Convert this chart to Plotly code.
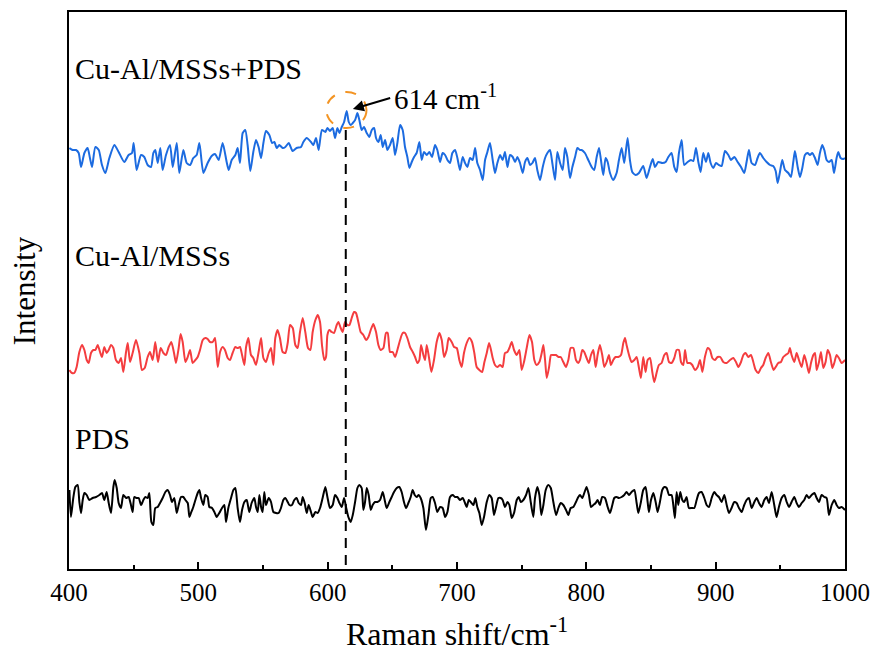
import plotly.graph_objects as go

# ---------------- data (Raman shift in cm^-1, intensity in a.u., stacked) ----------------
blue_x = [400.3,402.8,405.4,407.5,409.3,411.9,414.4,416.2,417.8,420.4,423,425.5,428.1,431.2,435.1,438.4,442.8,446.1,448.7,450,
          452.3,455.7,458.2,460.8,463.4,465.2,466.7,468.6,470.6,472.4,475,478.1,480.2,483.3,485.3,488.4,491,493.6,496.1,498.7,
          500.8,503.9,507.2,510.3,512.9,515.7,518.8,521.9,523.5,525.8,528.6,530.4,532.2,534.3,536.3,538.1,540.2,542.5,544.6,546.6,
          548.5,550.3,552.3,554.9,557,558.8,560.6,562.6,565.2,567.3,569.9,572.9,576,579.4,581.2,583.8,587.1,588.9,591,593,
          595.6,598.2,599.8,601.8,603.9,605.7,607.5,609.1,610.9,612.7,614.7,616.3,617.8,619.4,621.2,623,624.5,626.3,628.1,630.2,
          632.2,634.1,635.9,637.4,639.2,641,642.6,644.4,646.2,648.2,650.3,652.1,653.9,656,658,659.8,661.6,663.2,665,666.8,
          668.8,670.9,672.7,674.5,676.6,678.6,680.7,683,684.8,686.9,688.9,690.8,692.6,694.6,696.4,698.5,700.3,702.3,704.4,706.2,
          708,710.1,712.1,714,715.7,717.8,719.9,721.7,723.5,725.5,727.6,729.4,731.2,733.3,735.3,737.1,739,741,743.1,744.9,
          746.7,748.7,750.8,752.6,754.4,756.5,758.3,760.3,762.1,764.2,766.3,768.1,769.9,771.9,773.7,775.8,777.6,779.7,781.7,783.5,
          785.3,787.4,789.2,791.3,793.1,795.1,796.4,798.9,801.5,804.1,806.1,808,809.8,811.3,813.1,814.9,816.5,818.3,820.8,823.4,
          825.2,827.3,829.3,831.9,833.7,835.5,838.1,840.7,844,846.6,849.2,851.3,853.1,855.6,858.7,861.3,863.4,865.9,868,869.8,
          871.6,873.7,875.7,878.3,880.9,882.7,884.8,886.6,888.4,890.4,892.5,894.3,896.1,898.2,900.2,902.5,904.6,907.2,909.8,911.8,
          914.4,917,919.6,922.1,923.9,925.7,927.8,930.4,932.4,934.2,936.8,939.4,942,944.5,946.4,947.9,949.7,951.5,953.6,956.2,
          958.2,960,961.3,963.4,965.2,967,969,971.1,972.9,974.7,976.8,978.8,980.6,982.4,984,985.8,987.6,989.7,991.5,993.5,
          994.8,996.6,998.7,1000]
blue_y = [421,419,419,416,402,416,421,411,402,422,419,404,396,411,424,417,407,414,416,426,
          399,414,412,404,402,416,419,406,421,399,414,424,402,426,396,419,406,404,411,414,
          426,396,406,413,415,409,426,407,399,409,414,421,406,436,439,424,398,417,429,422,
          411,426,438,434,426,427,421,424,421,422,426,418,421,422,427,431,427,424,431,419,
          439,437,441,438,441,431,441,436,442,447,458,447,444,446,449,456,449,439,442,436,
          432,439,441,431,427,434,422,429,419,424,431,414,426,444,439,422,412,401,407,412,
          416,427,409,417,414,417,412,424,419,407,416,414,409,406,416,419,411,399,412,406,
          402,411,409,421,406,399,389,409,417,426,409,396,406,414,409,417,402,414,412,407,
          412,406,396,407,411,404,406,411,399,389,402,411,416,419,406,389,417,406,399,421,
          412,391,402,412,421,419,419,416,409,402,399,412,421,409,394,411,407,396,389,396,
          409,421,406,431,409,397,394,396,403,391,402,410,402,407,406,407,412,416,402,397,
          416,429,404,407,409,408,421,407,397,416,407,416,406,401,406,404,403,418,414,409,
          412,407,402,396,407,419,406,404,411,416,411,407,404,403,398,386,397,409,399,396,
          392,407,418,402,392,401,414,416,414,416,411,404,416,424,419,409,407,409,396,411,
          417,411,410,411]

red_x = [400.3,402.3,404.1,405.9,408,410.1,411.9,413.7,415.2,417,418.8,420.4,422.2,424,425.5,427.3,429.1,430.7,432.5,434.3,
         436.3,438.4,440.2,442,444.1,445.4,447.2,449.2,451.8,454.4,456.4,458.5,460.8,462.6,464.7,466.7,468.8,470.9,473,475,
         477.1,479.1,481.2,482.7,484.8,486.3,487.9,490,491.8,493.6,495.6,497.7,499.5,501.3,503.4,505.4,507.2,509,511.1,512.9,
         515,516.8,518.8,520.6,522.7,524.5,526.5,528.6,530.4,532.2,533.8,535.6,536.9,538.7,540.7,542.5,544.6,546.6,548.5,550.3,
         552.3,554.4,556.2,558,559.5,561.3,563.1,565.2,567.3,569.1,570.9,573,575,576.8,578.6,580.7,582.7,584.8,586.6,588.4,
         590.5,592.3,594.1,595.6,597.4,598.7,599.8,601.3,603.1,604.9,607,608.3,610.1,611.6,613.4,615.2,616.8,618.6,620.4,621.9,
         623.7,625.5,627.6,629.7,631.5,633.3,635.3,637.4,639.2,641,643.1,645.1,646.4,648.2,650.3,652.1,653.9,656,658,659.8,
         661.6,663.7,665.8,667.6,669.4,670.9,672.2,674,675.3,676.6,678.4,680.2,682.2,684.3,686.4,688.2,690,692,693.6,695.9,
         697.7,699.8,701.8,703.6,705.4,707.5,709.6,711.6,713.4,715.2,717.3,719.4,721.2,723,724.8,726.3,727.6,729.4,731.2,733.3,
         735.3,737.1,739,740.5,742.3,744.1,746.2,748.2,750,751.8,753.9,756,758,759.8,761.6,763.7,765.5,766.8,768.1,769.4,
         771.2,772.7,774.5,776.6,778.4,780.2,782.2,784.3,786.1,787.9,790,792,793.8,795.1,796.9,798.4,800.2,802,803.6,805.4,
         807.2,808.7,810.5,812.3,813.9,815.7,817.5,819,820.8,822.6,824.7,826.8,828.6,829.9,831.1,833,835,837.1,838.9,840.7,
         842.2,844,845.8,847.4,849.2,851,852.5,854.3,856.1,858.2,860.3,862.1,863.9,865.9,868,869.8,871.6,873.2,875,876.3,
         878.1,880.1,881.9,884,886.1,887.9,889.7,891.7,893.8,895.6,897.4,899.5,901.5,903.6,905.9,908.5,911.1,913.6,915.7,917.5,
         919.6,921.4,923.2,925.2,927.3,929.1,930.9,933,935,936.8,938.6,940.7,942.7,944.8,946.4,948.4,950.5,952.3,954.1,956.2,
         957.4,958.7,960.8,962.6,964.4,966.5,968.5,970.3,972.1,973.7,975.5,976.8,978.1,979.9,981.4,983.2,985,986.6,988.4,990.2,
         991.7,993.5,995.3,997.4,1000]
red_y = [199,196,196,202,217,224,219,209,206,216,219,219,224,217,212,222,216,219,224,221,
         209,206,211,197,217,226,207,216,229,216,199,201,212,217,209,227,207,221,216,214,
         222,227,216,206,221,235,227,207,212,219,206,209,212,219,229,231,230,227,227,231,
         202,217,222,219,211,209,216,222,221,222,214,204,222,231,214,211,204,217,231,211,
         207,216,221,204,231,239,231,217,216,226,244,241,224,221,237,251,237,221,219,237,
         249,254,247,224,209,212,234,239,237,236,244,247,241,237,247,244,244,251,257,256,
         247,237,234,229,232,239,245,237,224,219,221,236,236,217,217,212,219,229,236,236,
         231,222,217,212,206,209,224,214,209,224,211,197,209,227,236,229,212,219,231,227,
         222,221,209,202,216,226,231,227,216,202,199,197,207,216,226,219,211,204,202,204,
         202,216,217,221,227,219,214,219,199,207,221,234,227,209,204,207,216,224,209,191,
         202,214,214,214,212,212,207,202,209,221,221,209,206,209,219,217,211,206,214,219,
         202,214,224,214,202,207,214,204,209,212,212,214,226,231,224,214,207,209,212,201,
         191,212,197,209,211,197,187,196,204,206,214,216,207,206,211,219,219,207,204,219,
         206,206,204,199,202,209,197,212,221,219,211,209,212,212,207,206,209,211,207,202,
         207,214,216,212,214,207,199,196,201,204,211,216,207,199,202,206,207,212,214,216,
         221,214,207,216,209,202,214,206,196,206,214,216,199,207,217,201,207,219,214,201,
         206,214,211,206,209]

black_x = [400.3,401.5,403.3,404.9,406.7,408,409.3,410.6,411.9,413.7,415.7,418.3,420.9,423.5,425.5,427.3,429.1,430.7,432.5,434.3,
           435.3,436.9,438.4,440.2,442,444.1,446.1,447.9,449.2,450.5,452.3,453.9,455.7,457.5,459,460.8,462.1,463.7,465.2,466.7,
           468.6,470.4,472.4,474.5,476.3,478.1,479.6,481.4,483.3,484.8,486.6,488.4,490,491.8,493.1,494.3,496.1,498.2,499.5,500.8,
           502.1,503.9,505.4,507.2,508.5,510.6,512.4,514.2,516.2,518.3,520.1,521.4,523.2,525.3,527.1,528.6,530.4,532.2,533.8,535.6,
           537.4,539.4,541.2,543.3,544.6,545.9,547.2,548.5,549.7,551,552.3,554.4,556.2,558,560.1,562.1,563.9,565.7,567.3,569.1,
           570.4,572.4,574.2,576,577.6,579.4,580.7,582.2,583.8,585.3,587.1,588.4,590.5,592.3,594.1,596.1,598.2,599.8,601.8,603.9,
           605.7,607.5,609.1,610.9,612.7,614.2,616,617.8,619.4,621.2,623,624.5,626.3,627.6,628.9,630.2,631.7,633.3,634.8,636.6,
           638.4,640.5,642.6,644.4,645.6,647.7,649.5,651.3,653.4,655.4,657.2,659,660.6,662.4,664.2,665.7,667.3,668.8,670.4,671.9,
           674,676,677.9,679.7,681.2,683,684.8,686.9,688.9,690.8,692.6,694.6,696.7,698.5,700.3,702.3,704.4,706.2,707.5,709.1,
           710.6,712.7,714.2,715.7,717.3,719.1,720.9,723,725,726.8,728.6,730.2,732,733.8,735.3,737.1,739,740.5,742.3,744.1,
           746.2,747.7,749.3,751.3,753.4,755.2,757,759,760.3,762.1,763.7,765.2,766.8,768.6,770.6,772.5,774.5,776.6,778.4,780.2,
           782.2,784.3,786.1,787.9,790,792,793.8,795.1,796.9,798.4,800.2,802,803.6,805.4,807.2,808.7,810.5,812.3,814.4,816.5,
           818.3,820.1,821.6,823.4,825.2,827.3,829.3,831.1,833,835,837.1,838.9,840.2,842.2,844,845.8,847.4,848.4,850,851.8,
           853.6,855.1,856.9,858.7,860.3,862.1,863.9,865.9,867.5,868.5,869.8,871.1,872.6,874.2,875.7,877.5,879.3,881.4,883.5,885.3,
           887.1,889.1,891.2,893,894.8,896.9,898.9,900.7,902.5,904.6,906.7,908.5,910.3,912.3,914.4,916.2,918,920.1,922.1,923.9,
           925.7,927.8,929.9,931.7,933.5,935.5,937.6,939.4,941.2,943.3,945.3,947.1,948.9,951,953.1,954.9,956.7,958.7,960.8,962.6,
           964.4,966.5,968.5,970.3,972.1,974.2,976.3,978.1,979.9,981.9,984,985.8,987.6,989.7,991.7,993.5,995.3,997.4,1000]
black_y = [79,52,71,82,84,67,56,69,76,74,69,71,72,74,76,69,77,66,56,82,
           89,81,66,61,74,71,72,64,57,72,71,71,64,69,72,71,76,47,44,61,
           62,66,71,77,79,74,67,71,56,64,72,72,69,66,52,56,62,71,76,79,
           71,64,74,72,62,61,57,52,56,61,64,47,61,71,79,81,61,47,59,67,
           69,57,66,71,62,57,74,62,57,77,64,71,67,57,56,56,61,69,71,67,
           64,64,69,71,66,64,72,66,56,64,57,52,57,56,61,71,82,72,61,64,
           74,71,66,62,71,62,52,47,54,67,81,84,81,59,67,81,74,59,64,67,
           67,69,77,67,61,67,72,77,81,82,77,67,61,66,72,79,74,72,74,71,
           61,39,54,71,72,66,57,62,61,52,57,72,74,72,72,69,71,66,62,69,
           67,64,71,62,56,44,52,67,74,71,54,62,71,71,69,62,67,64,51,56,
           69,72,67,69,74,81,67,52,71,82,74,54,64,79,84,81,67,54,61,66,
           64,59,54,61,62,67,72,74,71,76,82,74,62,64,66,69,64,72,71,62,
           56,64,71,72,71,72,74,77,74,77,79,66,56,67,79,82,67,57,69,76,
           67,57,67,79,82,81,74,74,61,51,77,64,77,69,67,72,61,61,61,69,
           76,77,71,64,62,71,77,74,72,67,74,64,56,61,67,66,61,57,64,69,
           71,61,67,71,66,62,69,72,66,77,64,52,62,71,74,67,62,67,72,66,
           62,66,69,74,71,74,76,71,67,74,72,71,54,64,69,64,61,62,59]

series_names = ["Cu-Al/MSSs+PDS", "Cu-Al/MSSs", "PDS"]
series_colors = ["#1c6be0", "#f43d3f", "#000000"]
label_y = [501, 314, 131]

x_ticks = [400, 500, 600, 700, 800, 900, 1000]
peak_pos = 614
peak_label = "614 cm<sup>-1</sup>"

FONT = "Liberation Serif, Times New Roman, serif"

fig = go.Figure()
for xs, ys, name, col in [(blue_x, blue_y, series_names[0], series_colors[0]),
                          (red_x, red_y, series_names[1], series_colors[1]),
                          (black_x, black_y, series_names[2], series_colors[2])]:
    fig.add_trace(go.Scatter(x=xs, y=ys, mode="lines", name=name,
                             line=dict(color=col, width=2, shape="spline", smoothing=0.6),
                             showlegend=False))

# series labels
for name, yv in zip(series_names, label_y):
    fig.add_annotation(x=403, y=yv, text=name, showarrow=False, xanchor="left", yanchor="middle",
                       font=dict(family=FONT, size=30, color="black"))

# dashed vertical marker at peak
fig.add_shape(type="line", x0=peak_pos, x1=peak_pos, y0=4, y1=444, xref="x", yref="y",
              line=dict(color="black", width=2, dash="10px,7px"))
# orange dashed circle around peak
fig.add_shape(type="circle", x0=599, x1=630, y0=441, y1=477, xref="x", yref="y",
              line=dict(color="#f39423", width=2, dash="11px,11px"))
# arrow
fig.add_annotation(x=619.5, y=460, ax=649.5, ay=471.5, axref="x", ayref="y", xref="x", yref="y",
                   text="", showarrow=True, arrowhead=2, arrowsize=1.1, arrowwidth=2, arrowcolor="black")
fig.add_annotation(x=650, y=472, text=peak_label, showarrow=False, xanchor="left", yanchor="middle",
                   font=dict(family=FONT, size=29, color="black"))

# axis titles
fig.add_annotation(x=0.5, y=-0.113, xref="paper", yref="paper", text="Raman shift/cm<sup>-1</sup>",
                   showarrow=False, xanchor="center", yanchor="middle",
                   font=dict(family=FONT, size=32, color="black"))
fig.add_annotation(x=-0.057, y=0.5, xref="paper", yref="paper", text="Intensity", textangle=-90,
                   showarrow=False, xanchor="center", yanchor="middle",
                   font=dict(family=FONT, size=31, color="black"))

fig.update_layout(
    width=875, height=657,
    margin=dict(l=69, r=30, t=12, b=88),
    paper_bgcolor="white", plot_bgcolor="white",
    font=dict(family=FONT, color="black"),
    xaxis=dict(range=[400, 1000], tickvals=x_ticks, ticks="inside", ticklen=7, tickwidth=1.5,
               tickcolor="black", showline=True, linecolor="black", linewidth=1.5, mirror=True,
               showgrid=False, zeroline=False, tickfont=dict(family=FONT, size=25), automargin=False,
               minor=dict(tickvals=[450, 550, 650, 750, 850, 950], ticks="inside", ticklen=4,
                          tickwidth=1.5, tickcolor="black")),
    yaxis=dict(range=[0, 557], showticklabels=False, ticks="", showline=True, linecolor="black",
               linewidth=1.5, mirror=True, showgrid=False, zeroline=False, automargin=False),
)

# remove the page's default body margin so the 875x657 figure fills the window exactly
fig.write_html("out.html", config={"displayModeBar": False},
               post_script="document.body.style.margin='0';document.body.style.overflow='hidden';")
